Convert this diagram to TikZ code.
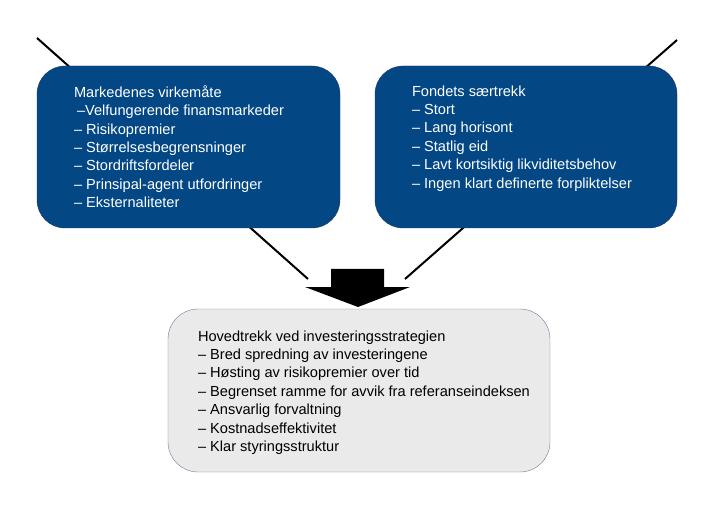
\documentclass[tikz,border=0pt]{standalone}
\usepackage{fontspec}
\setmainfont{Liberation Sans}
\usetikzlibrary{positioning}
\definecolor{fundblue}{RGB}{3,72,133}
\definecolor{fundedge}{RGB}{30,55,95}
\definecolor{stratgray}{RGB}{234,234,234}
\definecolor{stratedge}{RGB}{110,122,150}

\begin{document}
\begin{tikzpicture}[x=1pt, y=-1pt,
    funnel/.style={line width=2pt},
    bluebox/.style={rectangle, rounded corners=28pt, draw=fundedge, fill=fundblue, minimum width=303pt, minimum height=162pt},
    graybox/.style={rectangle, rounded corners=30pt, draw=stratedge, fill=stratgray, minimum width=382pt, minimum height=163pt},
    listtext/.style={align=left, inner sep=0pt, anchor=north west, font=\fontsize{14.6}{18.4}\selectfont}]
    \useasboundingbox (0,0) rectangle (719,510);
    % funnel lines behind the boxes
    \coordinate (lefttop) at (37,38);
    \coordinate (leftend) at (308,279);
    \coordinate (righttop) at (677,40);
    \coordinate (rightend) at (405,279);
    \draw[funnel] (lefttop) -- (leftend);
    \draw[funnel] (righttop) -- (rightend);
    % boxes
    \node[bluebox] (market) at (188.5,147) {};
    \node[bluebox, minimum width=302pt] (fund) at (526,147) {};
    \node[graybox] (strategy) at (359,390.5) {};
    % texts
    \node[listtext, text=white] (marketlist) at ([xshift=37pt, yshift=-19.5pt]market.north west)
        {Markedenes virkemåte\\
         \hspace{3pt}–Velfungerende finansmarkeder\\
         – Risikopremier\\
         – Størrelsesbegrensninger\\
         – Stordriftsfordeler\\
         – Prinsipal-agent utfordringer\\
         – Eksternaliteter};
    \node[listtext, text=white] (fundlist) at ([xshift=37pt, yshift=-19.5pt]fund.north west)
        {Fondets særtrekk\\
         – Stort\\
         – Lang horisont\\
         – Statlig eid\\
         – Lavt kortsiktig likviditetsbehov\\
         – Ingen klart definerte forpliktelser};
    \node[listtext] (strategylist) at ([xshift=30pt, yshift=-21.5pt]strategy.north west)
        {Hovedtrekk ved investeringsstrategien\\
         – Bred spredning av investeringene\\
         – Høsting av risikopremier over tid\\
         – Begrenset ramme for avvik fra referanseindeksen\\
         – Ansvarlig forvaltning\\
         – Kostnadseffektivitet\\
         – Klar styringsstruktur};
    % block arrow into the strategy box
    \fill (331,269) -- (384,269) -- (384,287) -- (410,287) -- (358,307)
        -- (305,287) -- (331,287) -- cycle;
\end{tikzpicture}
\end{document}
